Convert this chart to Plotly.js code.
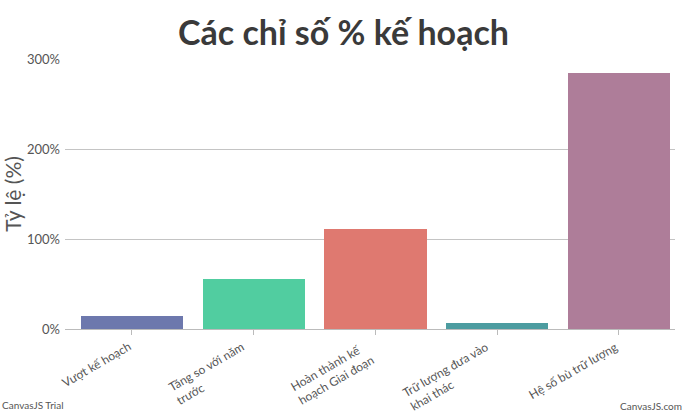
<!DOCTYPE html>
<html>
<head>
<meta charset="utf-8">
<script src="https://cdn.plot.ly/plotly-3.0.1.min.js"></script>
<style>html,body{margin:0;padding:0;background:#fff;}#chart{width:687px;height:418px;}</style>
</head>
<body>
<div id="chart"></div>
<script>
const categories = ["Vượt kế hoạch", "Tăng so với năm<br>trước", "Hoàn thành kế<br>hoạch Giai đoạn", "Trữ lượng đưa vào<br>khai thác", "Hệ số bù trữ lượng"];
const values = [14, 56, 111, 7, 285];
const barColors = ["#6D78AD", "#51CDA0", "#DF7970", "#4C9CA0", "#AE7D99"];
const yTicks = [0, 100, 200, 300];
const yTickLabels = ["0%", "100%", "200%", "300%"];

const xIdx = categories.map((c, i) => i);

const trace = {
  type: "bar",
  x: xIdx,
  y: values,
  width: 0.84,
  marker: {color: barColors},
  hoverinfo: "none"
};

const labelAnnotations = categories.map((c, i) => ({
  text: c, x: xIdx[i], xref: "x", y: 0, yref: "y",
  xanchor: "right", yanchor: "top", align: "left",
  textangle: -30, showarrow: false, xshift: 4, yshift: -7,
  font: {size: 12, color: "#555"}
}));

const layout = {
  width: 687,
  height: 418,
  margin: {l: 65, r: 12, t: 59, b: 89},
  paper_bgcolor: "#fff",
  plot_bgcolor: "#fff",
  font: {family: "Lato, 'Open Sans', sans-serif", color: "#555"},
  title: {
    text: "<b>Các chỉ số % kế hoạch</b>",
    font: {family: "Lato, 'Open Sans', sans-serif", size: 34, color: "#3a3a3a"},
    x: 0.5, xanchor: "center", y: 0.92, yanchor: "middle", yref: "container"
  },
  xaxis: {
    range: [-0.55, 4.46],
    tickmode: "array",
    tickvals: xIdx,
    ticktext: xIdx.map(() => ""),
    showline: true,
    linecolor: "#bbb",
    linewidth: 1,
    ticks: "outside",
    ticklen: 5,
    tickcolor: "#bbb",
    showgrid: false,
    zeroline: false,
    fixedrange: true
  },
  yaxis: {
    range: [0, 300],
    tickmode: "array",
    tickvals: yTicks,
    ticktext: yTickLabels,
    tickfont: {size: 13, color: "#555"},
    showgrid: true,
    gridcolor: "#c4c4c4",
    gridwidth: 1,
    zeroline: false,
    showline: false,
    ticks: "",
    ticklabelstandoff: 4,
    title: {text: "Tỷ lệ (%)", font: {size: 21, color: "#555"}, standoff: 8},
    fixedrange: true
  },
  showlegend: false,
  bargap: 0,
  annotations: labelAnnotations.concat([
    {text: "CanvasJS Trial", xref: "paper", yref: "paper", x: 0, y: 0, xanchor: "left", yanchor: "bottom",
     xshift: -65, yshift: -84, showarrow: false, font: {size: 10, color: "#555"}},
    {text: "CanvasJS.com", xref: "paper", yref: "paper", x: 1, y: 0, xanchor: "right", yanchor: "bottom",
     xshift: 9, yshift: -85, showarrow: false, font: {size: 10, color: "#555"}}
  ])
};

Plotly.newPlot("chart", [trace], layout, {displayModeBar: false, staticPlot: true});
</script>
</body>
</html>
